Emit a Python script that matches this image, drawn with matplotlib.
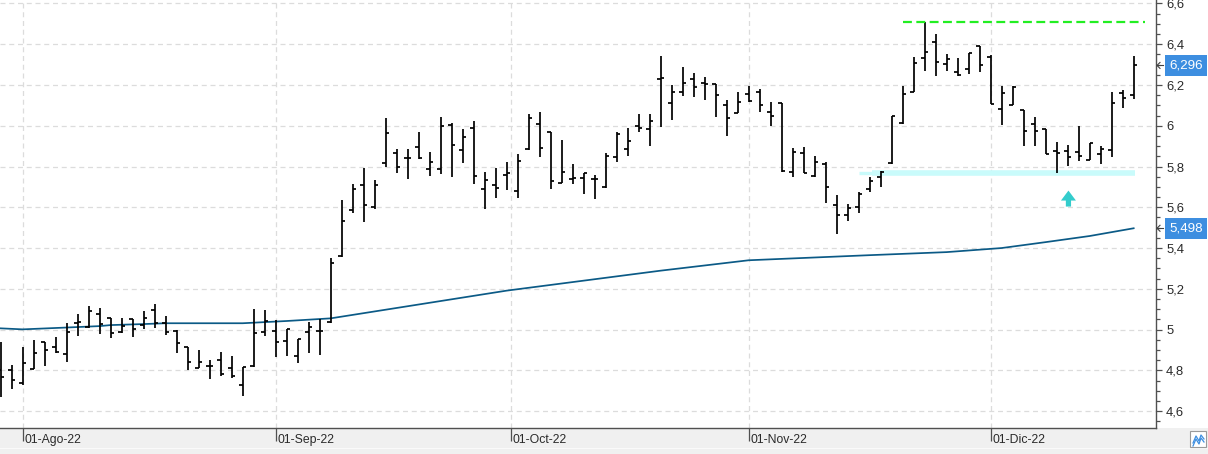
import matplotlib
matplotlib.use("Agg")
import matplotlib.pyplot as plt
from matplotlib.transforms import blended_transform_factory, ScaledTranslation
from matplotlib.patches import Rectangle, Polygon
from matplotlib.lines import Line2D
import numpy as np

plt.rcParams['font.family'] = ['Liberation Sans', 'DejaVu Sans']

# ---------------- data ----------------
opens = [4.800, 4.800, 4.736, 4.805, 4.937, 4.913, 4.880, 5.031, 5.011, 5.075,
         5.055, 4.989, 5.050, 5.022, 5.096, 5.031, 4.994, 4.916, 4.810, 4.823,
         4.851, 4.810, 4.726, 4.821, 4.990, 4.995, 4.943, 4.872, 4.987, 4.993,
         5.038, 5.361, 5.587, 5.708, 5.600, 5.819, 5.865, 5.843, 5.894, 5.786,
         5.788, 6.004, 5.881, 5.988, 5.688, 5.708, 5.757, 5.680, 5.885, 6.009,
         5.968, 5.718, 5.740, 5.742, 5.737, 5.698, 5.845, 5.886, 5.999, 5.984,
         6.230, 6.110, 6.164, 6.228, 6.209, 6.205, 6.101, 6.061, 6.156, 6.166,
         6.068, 6.110, 5.772, 5.868, 5.754, 5.813, 5.611, 5.561, 5.600, 5.688,
         5.747, 5.816, 6.012, 6.167, 6.331, 6.410, 6.303, 6.262, 6.277, 6.392,
         6.336, 6.081, 6.101, 6.078, 6.007, 5.983, 5.876, 5.876, 5.870, 5.832,
         5.860, 5.881, 6.162, 6.151]
highs = [4.940, 4.825, 4.916, 4.949, 4.937, 4.965, 5.031, 5.076, 5.117, 5.107,
         5.055, 5.055, 5.050, 5.091, 5.124, 5.067, 4.998, 4.916, 4.900, 4.851,
         4.888, 4.870, 4.815, 5.099, 5.096, 5.047, 5.001, 4.955, 5.037, 5.050,
         5.350, 5.636, 5.714, 5.794, 5.734, 6.037, 5.885, 5.885, 5.968, 5.870,
         6.043, 6.012, 5.983, 6.024, 5.773, 5.791, 5.822, 5.862, 6.058, 6.068,
         5.970, 5.930, 5.813, 5.770, 5.759, 5.868, 5.968, 5.988, 6.056, 6.057,
         6.343, 6.200, 6.287, 6.258, 6.240, 6.205, 6.125, 6.166, 6.195, 6.179,
         6.117, 6.110, 5.892, 5.897, 5.853, 5.821, 5.660, 5.616, 5.677, 5.750,
         5.780, 6.048, 6.195, 6.336, 6.511, 6.449, 6.352, 6.331, 6.359, 6.392,
         6.345, 6.197, 6.195, 6.078, 6.042, 5.983, 5.919, 5.906, 5.999, 5.917,
         5.901, 6.164, 6.176, 6.344]
lows = [4.670, 4.707, 4.728, 4.805, 4.823, 4.883, 4.842, 4.970, 5.006, 4.980,
        4.957, 4.982, 4.962, 5.001, 5.006, 4.973, 4.883, 4.801, 4.810, 4.756,
        4.774, 4.761, 4.675, 4.818, 4.970, 4.867, 4.870, 4.837, 4.886, 4.875,
        5.034, 5.358, 5.571, 5.529, 5.590, 5.796, 5.770, 5.740, 5.839, 5.755,
        5.762, 5.750, 5.819, 5.713, 5.590, 5.647, 5.685, 5.647, 5.881, 5.848,
        5.688, 5.718, 5.713, 5.664, 5.639, 5.693, 5.821, 5.852, 5.968, 5.901,
        5.996, 6.028, 6.148, 6.143, 6.127, 6.045, 5.951, 6.061, 6.118, 6.069,
        6.000, 5.775, 5.750, 5.767, 5.750, 5.623, 5.467, 5.533, 5.571, 5.677,
        5.701, 5.811, 6.007, 6.164, 6.270, 6.246, 6.269, 6.246, 6.253, 6.263,
        6.107, 6.004, 6.101, 5.902, 5.902, 5.860, 5.770, 5.803, 5.829, 5.832,
        5.811, 5.848, 6.086, 6.130]
closes = [4.766, 4.752, 4.837, 4.886, 4.900, 4.888, 4.989, 5.036, 5.093, 5.026,
          4.984, 5.019, 5.001, 5.058, 5.031, 4.989, 4.935, 4.842, 4.840, 4.823,
          4.782, 4.774, 4.815, 4.982, 5.043, 4.937, 5.001, 4.952, 5.011, 4.993,
          5.325, 5.533, 5.688, 5.610, 5.709, 5.963, 5.799, 5.840, 5.840, 5.821,
          5.999, 5.906, 5.944, 5.752, 5.733, 5.693, 5.767, 5.827, 6.037, 5.890,
          5.727, 5.773, 5.742, 5.768, 5.737, 5.852, 5.958, 5.925, 5.988, 6.024,
          6.233, 6.164, 6.209, 6.192, 6.205, 6.151, 6.037, 6.115, 6.122, 6.101,
          6.047, 5.780, 5.869, 5.767, 5.821, 5.698, 5.561, 5.595, 5.665, 5.731,
          5.775, 6.048, 6.155, 6.310, 6.361, 6.312, 6.327, 6.249, 6.356, 6.298,
          6.108, 6.162, 6.192, 5.975, 5.975, 5.863, 5.865, 5.848, 5.852, 5.914,
          5.886, 6.113, 6.135, 6.296]

# moving average read at several bars
ma_idx = [0, 2, 6, 9, 10, 13, 15, 22, 26, 30, 46, 60, 68, 79, 86, 91, 95, 99, 103]
ma_val = [5.006, 5.001, 5.010, 5.017, 5.022, 5.027, 5.031, 5.031, 5.042, 5.055,
          5.191, 5.289, 5.340, 5.365, 5.380, 5.400, 5.429, 5.459, 5.497]

tick_pos = [2, 25, 46.35, 68, 90]
tick_labels = ['01-Ago-22', '01-Sep-22', '01-Oct-22', '01-Nov-22', '01-Dic-22']

y_ticks = [4.6, 4.8, 5.0, 5.2, 5.4, 5.6, 5.8, 6.0, 6.2, 6.4, 6.6]
y_labels = ['4,6', '4,8', '5', '5,2', '5,4', '5,6', '5,8', '6', '6,2', '6,4', '6,6']

resist_level = 6.51
resist_span = (82.0, 104.0)
support_level = 5.768
support_span = (78.0, 103.1)
arrow_x = 97.07
arrow_tip = 5.682

last_close_label = '6,296'
ma_label = '5,498'

# ---------------- figure ----------------
W, H = 1208, 454
fig = plt.figure(figsize=(W / 100, H / 100), dpi=100, facecolor='#f0f0f0')
ax_right_px = 1156
ax_bottom_px = 428
ax = fig.add_axes([0, 1 - ax_bottom_px / H, ax_right_px / W, ax_bottom_px / H])
ax.set_facecolor('white')
fig.add_artist(Rectangle((ax_right_px / W, 1 - ax_bottom_px / H), 1 - ax_right_px / W,
                         ax_bottom_px / H, transform=fig.transFigure,
                         facecolor='white', edgecolor='none', zorder=0))
# thin light line near the bottom edge
fig.add_artist(Rectangle((0, 1 - 449 / H), 1, 1.5 / H, transform=fig.transFigure,
                         facecolor='#fafafa', edgecolor='none', zorder=0))

idx = np.arange(len(closes))
ax.set_xlim(-0.064, 105.03)
ax.set_ylim(4.517, 6.617)

# grid
ax.set_axisbelow(True)
ax.grid(True, color='#dcdcdc', linestyle=(0, (4, 3)), linewidth=0.9)

# support band (light cyan)
ax.plot([support_span[0], support_span[0] + 1.2], [support_level, support_level],
        color='#c9fbfb', lw=2.4, solid_capstyle='butt', zorder=2)
ax.plot([support_span[0] + 1.2, support_span[1]], [support_level, support_level],
        color='#c9fbfb', lw=4.0, solid_capstyle='butt', zorder=2)

# moving average
ax.plot(ma_idx, ma_val, color='#0b5a86', lw=1.25, zorder=3)

# OHLC bars
ax.vlines(idx, lows, highs, color='black', lw=1.25, zorder=4)
ax.hlines(opens, idx - 0.32, idx, color='black', lw=1.25, zorder=4)
ax.hlines(closes, idx, idx + 0.32, color='black', lw=1.25, zorder=4)

# resistance line (green dashed)
ax.plot(resist_span, [resist_level, resist_level], color='#22ee22', lw=1.6,
        linestyle=(0, (4, 2)), zorder=5)

# cyan up arrow (shape in pixels, anchored at its tip)
arrow_shape_px = [(0, 0), (-7.5, -10), (-2.6, -10), (-2.6, -16), (2.6, -16), (2.6, -10), (7.5, -10)]
tip_tr = fig.dpi_scale_trans + ScaledTranslation(arrow_x, arrow_tip, ax.transData)
ax.add_patch(Polygon([(px / 100, py / 100) for px, py in arrow_shape_px], closed=True,
                     transform=tip_tr, facecolor='#33cccc', edgecolor='none', zorder=6))

# axes styling
for s in ['top', 'left']:
    ax.spines[s].set_visible(False)
for s in ['right', 'bottom']:
    ax.spines[s].set_color('#505050')
    ax.spines[s].set_linewidth(1.0)

ax.yaxis.tick_right()
ax.set_yticks(y_ticks)
ax.set_yticklabels(y_labels)
ax.set_yticks(np.arange(4.55, 6.62, 0.05), minor=True)
ax.tick_params(axis='y', which='major', direction='out', length=4.3, width=0.9,
               color='#505050', pad=3.0, labelsize=9.4, labelcolor='#2a2a2a')
ax.tick_params(axis='y', which='minor', direction='out', length=2.9, width=0.9,
               color='#505050')

ax.set_xticks(tick_pos)
ax.set_xticklabels(tick_labels, ha='left')
ax.tick_params(axis='x', direction='out', length=9.0, width=0.9, color='#505050',
               pad=-5.0, labelsize=8.8, labelcolor='#2a2a2a')
offset = ScaledTranslation(2 / 100, 0, fig.dpi_scale_trans)
for lab in ax.get_xticklabels():
    lab.set_transform(lab.get_transform() + offset)

# value tags on the right axis
trans = blended_transform_factory(ax.transAxes, ax.transData)
for val, txt in [(closes[-1], last_close_label), (ma_val[-1], ma_label)]:
    ax.text(1169 / ax_right_px, val, txt, transform=trans, ha='left', va='center',
            color='white', fontsize=9.6, clip_on=False, zorder=10,
            bbox=dict(boxstyle='square,pad=0.32', fc='#3d8ee0', ec='none'))
    yfig = ax.transData.transform((0, val))[1] / H
    x0, x1 = 1157 / W, 1163 / W
    fig.add_artist(Line2D([x0, x1], [yfig, yfig], color='#404040', lw=0.8,
                          transform=fig.transFigure))
    fig.add_artist(Line2D([x0 + 3 / W, x0, x0 + 3 / W],
                          [yfig + 3 / H, yfig, yfig - 3 / H], color='#404040', lw=0.8,
                          transform=fig.transFigure))

# small icon bottom-right
fig.add_artist(Rectangle((1190 / W, 1 - 447 / H), 16 / W, 16 / H, transform=fig.transFigure,
                         facecolor='white', edgecolor='#9a9a9a', lw=0.8))
zx = np.array([1193, 1196, 1199, 1201, 1204]) / W
zy = 1 - np.array([443, 436, 441, 435, 439]) / H
fig.add_artist(Line2D(zx, zy, color='#3d8ee0', lw=0.9, transform=fig.transFigure))
fig.add_artist(Line2D(zx, zy - 3 / H, color='#3d8ee0', lw=0.9, transform=fig.transFigure))

fig.savefig('out.png', dpi=100, facecolor=fig.get_facecolor())
